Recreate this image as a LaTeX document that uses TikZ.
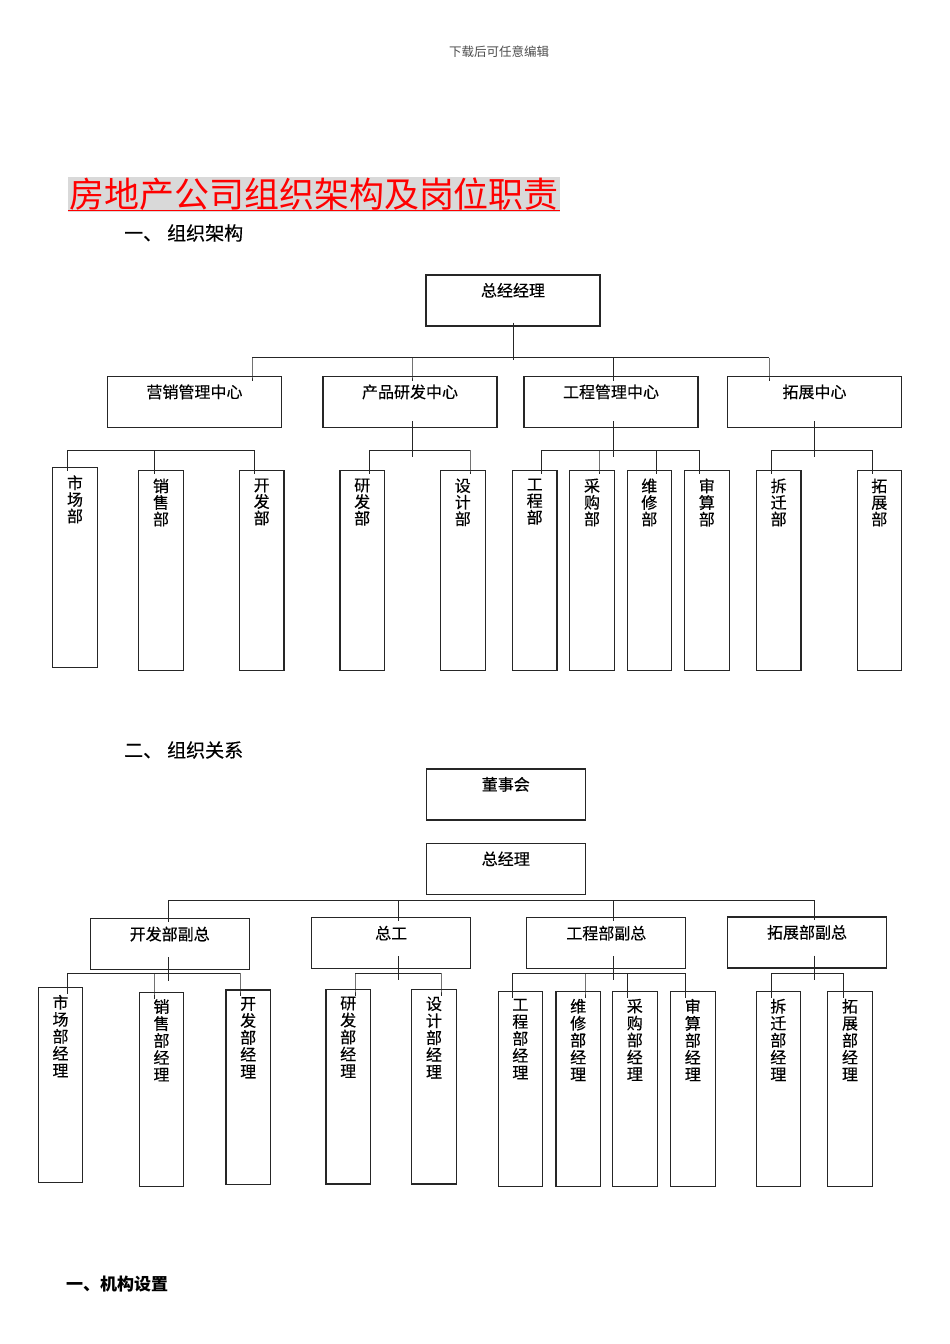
\documentclass[tikz,border=0pt]{standalone}
\usepackage{fontspec}
\setmainfont{Noto Sans CJK SC}
\newfontfamily\lblfont[FakeBold=0.35]{Noto Sans CJK SC}

\tikzset{
  wide/.style={draw=black!85, line width=1.1pt, minimum width=174pt, minimum height=51pt, inner sep=0pt},
  mid/.style={wide, minimum width=159pt},
  wlbl/.style={anchor=base, yshift=-22pt, inner sep=0pt, font=\lblfont\fontsize{16}{16}\selectfont},
  tall/.style={draw=black!85, line width=1.1pt, minimum width=44.5pt, minimum height=200pt, inner sep=0pt},
  tall2/.style={tall, minimum height=194.5pt},
  tlbl/.style={anchor=north, yshift=-8.5pt, align=center, inner sep=0pt, font=\lblfont\fontsize{16}{16.6}\selectfont},
  tlbl2/.style={tlbl, yshift=1pt, font=\lblfont\fontsize{16}{17}\selectfont},
  link/.style={draw=black!85, line width=1pt},
  sect/.style={anchor=west, inner sep=0pt, font=\lblfont\fontsize{19}{19}\selectfont},
  title/.style={fill=black!15, text=red, inner sep=0pt, minimum width=492pt, minimum height=35pt, font=\fontsize{35}{35}\selectfont}
}

\begin{document}
\begin{tikzpicture}[x=1pt, y=-1pt]
  \useasboundingbox (0,0) rectangle (950,1344);

  % page head and title
  \node[font=\fontsize{12.5}{12.5}\selectfont, text=black!70] (hdr) at (499,52) {下载后可任意编辑};
  \node[title] (ttl) at (314,194.5) {房地产公司组织架构及岗位职责};
  \draw[red, line width=1.3pt] ([yshift=2pt]ttl.south west) -- ([yshift=2pt]ttl.south east);
  \node[sect] (s1) at (124,233) {一、\hspace{5pt}组织架构};

  % ---- chart 1
  \node[wide, label={[wlbl]north:总经经理}] (zjl) at (513,300.5) {};
  \node[wide, label={[wlbl]north:营销管理中心}] (yx) at (194.5,402) {};
  \node[wide, label={[wlbl]north:产品研发中心}] (cp) at (410,402) {};
  \node[wide, label={[wlbl]north:工程管理中心}] (gc) at (611,402) {};
  \node[wide, label={[wlbl]north:拓展中心}] (tz) at (814.5,402) {};

  \node[tall, label={[tlbl]north:{市\\场\\部}}] (sc) at (75,567.2) {};
  \node[tall, label={[tlbl]north:{销\\售\\部}}] (xs) at (161,570.4) {};
  \node[tall, label={[tlbl]north:{开\\发\\部}}] (kf) at (261.7,570.4) {};
  \node[tall, label={[tlbl]north:{研\\发\\部}}] (yf) at (362.2,570.4) {};
  \node[tall, label={[tlbl]north:{设\\计\\部}}] (sj) at (462.8,570.4) {};
  \node[tall, label={[tlbl]north:{工\\程\\部}}] (gcb) at (534.7,570.4) {};
  \node[tall, label={[tlbl]north:{采\\购\\部}}] (cg) at (592,570.4) {};
  \node[tall, label={[tlbl]north:{维\\修\\部}}] (wx) at (649.3,570.4) {};
  \node[tall, label={[tlbl]north:{审\\算\\部}}] (sd) at (706.8,570.4) {};
  \node[tall, label={[tlbl]north:{拆\\迁\\部}}] (cq) at (778.7,570.4) {};
  \node[tall, label={[tlbl]north:{拓\\展\\部}}] (tzb) at (879.3,570.4) {};

  \draw[link] ([yshift=4pt]zjl.south) -- ++(0,37);
  \foreach \x/\n in {252/yx,412/cp,613.7/gc,769/tz}{
    \coordinate (d\n) at (\x,357.5);
    \draw[link] (d\n) -- (d\n |- \n.north) -- ++(0,5);
  }
  \draw[link] (dyx) -- (dtz);

  \foreach \x/\n in {67.7/sc,154.3/xs,254.3/kf,369.3/yf,470/sj,541.7/gcb,599/cg,656.7/wx,699.7/sd,771.7/cq,872/tzb}{
    \coordinate (d\n) at (\x,450);
    \draw[link] (d\n) -- (d\n |- \n.north) -- ++(0,4);
  }
  \draw[link] (dsc) -- (dkf);
  \draw[link] (dyf) -- (dsj);
  \draw[link] (dgcb) -- (dsd);
  \draw[link] (dcq) -- (dtzb);
  \draw[link] (dcp |- cp.south) ++(0,-7) -- ++(0,36);
  \draw[link] (dgc |- gc.south) ++(0,-7) -- ++(0,36);
  \draw[link] (tz.south) ++(0,-7) -- ++(0,36);

  % ---- chart 2
  \node[sect] (s2) at (124,750) {二、\hspace{5pt}组织关系};
  \node[mid, label={[wlbl]north:董事会}] (dsh) at (505.8,794.5) {};
  \node[mid, label={[wlbl]north:总经理}] (zjl2) at (505.8,869) {};
  \node[mid, label={[wlbl]north:开发部副总}] (kffz) at (169.7,944.2) {};
  \node[mid, label={[wlbl]north:总工}] (zg) at (391.2,943.3) {};
  \node[mid, label={[wlbl]north:工程部副总}] (gcfz) at (606.3,943.3) {};
  \node[mid, label={[wlbl]north:拓展部副总}] (tzfz) at (807,942.5) {};

  \node[tall2, label={[tlbl2]north:{市\\场\\部\\经\\理}}] (scj) at (60.5,1085) {};
  \node[tall2, label={[tlbl2]north:{销\\售\\部\\经\\理}}] (xsj) at (161.5,1089.3) {};
  \node[tall2, label={[tlbl2]north:{开\\发\\部\\经\\理}}] (kfj) at (248.2,1087.2) {};
  \node[tall2, label={[tlbl2]north:{研\\发\\部\\经\\理}}] (yfj) at (348.2,1086.7) {};
  \node[tall2, label={[tlbl2]north:{设\\计\\部\\经\\理}}] (sjj) at (434,1086.7) {};
  \node[tall2, label={[tlbl2]north:{工\\程\\部\\经\\理}}] (gcj) at (520.3,1089) {};
  \node[tall2, label={[tlbl2]north:{维\\修\\部\\经\\理}}] (wxj) at (578.2,1089) {};
  \node[tall2, label={[tlbl2]north:{采\\购\\部\\经\\理}}] (cgj) at (634.8,1089) {};
  \node[tall2, label={[tlbl2]north:{审\\算\\部\\经\\理}}] (sdj) at (692.8,1089) {};
  \node[tall2, label={[tlbl2]north:{拆\\迁\\部\\经\\理}}] (cqj) at (778.3,1089) {};
  \node[tall2, label={[tlbl2]north:{拓\\展\\部\\经\\理}}] (tzj) at (850,1089) {};

  \foreach \x/\n in {168.3/kffz,398.3/zg,613.7/gcfz,814.7/tzfz}{
    \coordinate (d\n) at (\x,900.3);
    \draw[link] (d\n) -- (d\n |- \n.north) -- ++(0,4);
    \draw[link] (d\n |- \n.south) ++(0,-13) -- ++(0,24);
  }
  \draw[link] (dkffz) -- (dtzfz);

  \foreach \x/\n in {67.7/scj,154/xsj,240/kfj,355/yfj,441/sjj,512.7/gcj,585/wxj,627.7/cgj,685.7/sdj,771.7/cqj,843.3/tzj}{
    \coordinate (d\n) at (\x,973);
    \draw[link] (d\n) -- (d\n |- \n.north) -- ++(0,7);
  }
  \draw[link] (dscj) -- (dkfj);
  \draw[link] (dyfj) -- (dsjj);
  \draw[link] (dgcj) -- (dsdj);
  \draw[link] (dcqj) -- (dtzj);

  % ---- next section
  \node[sect, font=\fontsize{17}{17}\selectfont\bfseries] (s3) at (66,1284) {一、机构设置};
\end{tikzpicture}
\end{document}
